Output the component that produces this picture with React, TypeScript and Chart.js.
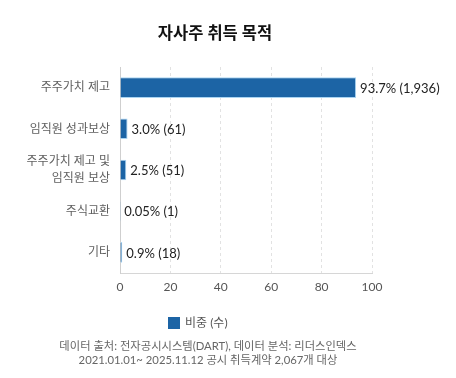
import React, { useEffect, useRef } from "react";
import { Chart, registerables } from "chart.js";

Chart.register(...registerables);

const title = "자사주 취득 목적";
const seriesLabel = "비중 (수)";
const categories: (string | string[])[] = [
  "주주가치 제고",
  "임직원 성과보상",
  ["주주가치 제고 및", "임직원 보상"],
  "주식교환",
  "기타",
];
const shares = [93.7, 3.0, 2.5, 0.05, 0.9];
const counts = [1936, 61, 51, 1, 18];
const xMin = 0;
const xMax = 100;
const xStep = 20;
const footerLines = [
  "데이터 출처: 전자공시시스템(DART), 데이터 분석: 리더스인덱스",
  "2021.01.01~ 2025.11.12 공시 취득계약 2,067개 대상",
];

const FONT = "Lato, 'Noto Sans CJK KR', sans-serif";
const BAR_COLOR = "#1c64a5";
const BAR_BORDER = "#a9d4f2";

const fmtPct = (v: number) => (v < 0.1 ? v.toFixed(2) : v.toFixed(1));

const annotate = {
  id: "annotate",
  afterDatasetsDraw(chart: any) {
    const ctx = chart.ctx;
    const meta = chart.getDatasetMeta(0);
    ctx.save();
    ctx.font = `13px ${FONT}`;
    ctx.fillStyle = "#222";
    ctx.textBaseline = "middle";
    ctx.textAlign = "left";
    meta.data.forEach((bar: any, i: number) => {
      const { x, y } = bar.getProps(["x", "y"], true);
      ctx.fillText(
        `${fmtPct(shares[i])}% (${counts[i].toLocaleString("en-US")})`,
        x + 4,
        y + 1
      );
    });
    ctx.restore();
  },
  afterDraw(chart: any) {
    const ctx = chart.ctx;
    ctx.save();
    // title
    ctx.font = `bold 16.5px ${FONT}`;
    ctx.fillStyle = "#111";
    ctx.textAlign = "center";
    ctx.textBaseline = "middle";
    ctx.fillText(title, 207, 25.5);
    // legend
    ctx.fillStyle = BAR_COLOR;
    ctx.fillRect(160, 309, 12, 12);
    ctx.font = `12px ${FONT}`;
    ctx.fillStyle = "#555";
    ctx.textAlign = "left";
    ctx.fillText(seriesLabel, 177, 315.5);
    // footer
    ctx.font = `11.3px ${FONT}`;
    ctx.fillStyle = "#666";
    ctx.textAlign = "center";
    footerLines.forEach((line, i) => ctx.fillText(line, 200, 338.5 + i * 14));
    ctx.restore();
  },
};

export default function App() {
  const ref = useRef<HTMLCanvasElement | null>(null);
  useEffect(() => {
    if (!ref.current) return;
    const chart = new Chart(ref.current, {
      type: "bar",
      data: {
        labels: categories,
        datasets: [
          {
            label: seriesLabel,
            data: shares,
            backgroundColor: BAR_COLOR,
            borderColor: BAR_BORDER,
            borderWidth: 1,
            barPercentage: 0.5,
            categoryPercentage: 1,
          },
        ],
      },
      options: {
        indexAxis: "y",
        animation: false,
        responsive: false,
        devicePixelRatio: 1,
        layout: { padding: { top: 59, right: 76, bottom: 67, left: 0 } },
        plugins: {
          legend: { display: false },
          title: { display: false },
          tooltip: { enabled: false },
        },
        scales: {
          x: {
            min: xMin,
            max: xMax,
            ticks: {
              stepSize: xStep,
              padding: 7,
              color: "#555",
              font: { family: FONT, size: 12 },
            },
            grid: { color: "#e2e2e2", drawTicks: false },
            border: { display: true, color: "#d6d6d6", dash: [3, 3] },
            afterFit: (s: any) => {
              s.height = 30;
            },
          },
          y: {
            ticks: {
              padding: 10,
              color: "#5f5f5f",
              font: { family: FONT, size: 12, lineHeight: 1.4 },
            },
            grid: { display: false, drawTicks: false },
            border: { display: true, color: "#cfcfcf" },
            afterFit: (s: any) => {
              s.width = 112;
            },
          },
        },
      },
      plugins: [annotate],
    });
    return () => chart.destroy();
  }, []);
  return <canvas ref={ref} width={440} height={362} style={{ display: "block" }} />;
}
